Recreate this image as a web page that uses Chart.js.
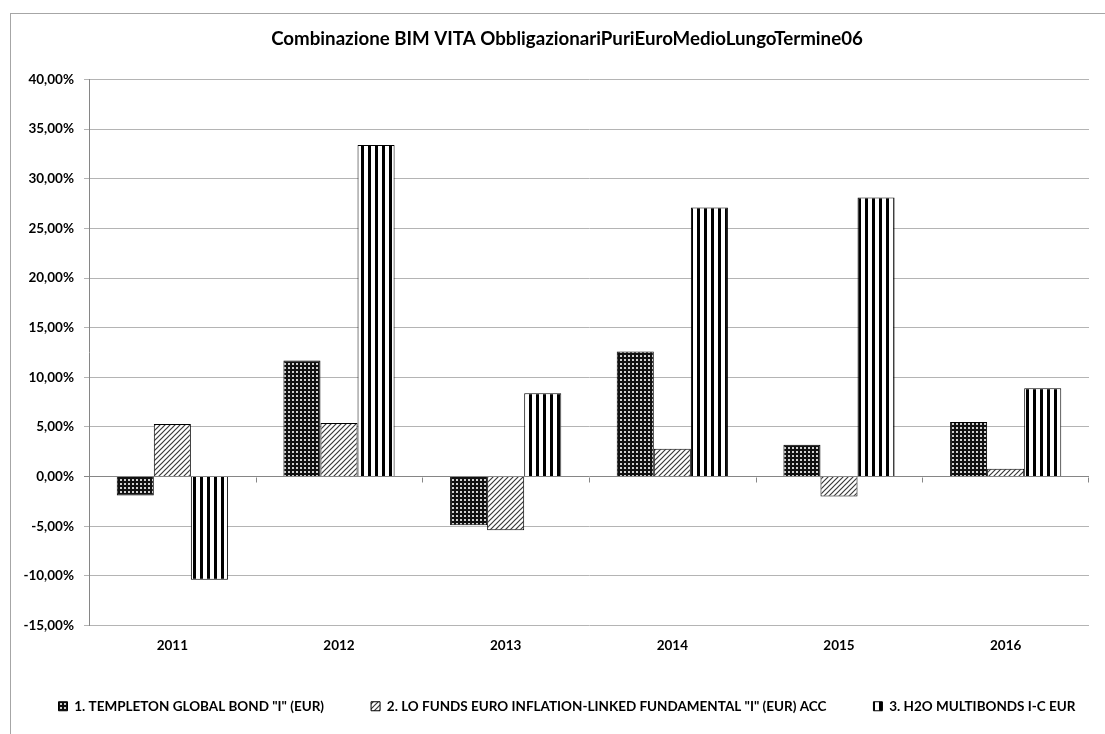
<!DOCTYPE html>
<html>
<head>
<meta charset="utf-8">
<script src="https://cdn.jsdelivr.net/npm/chart.js@4.4.0/dist/chart.umd.min.js"></script>
<style>
  html, body { margin: 0; padding: 0; background: #fff; overflow: hidden; width: 1105px; height: 734px; }
  #frame { position: absolute; left: 10px; top: 13px; width: 1113px; height: 721px;
           border-left: 1px solid #a6a6a6; border-top: 1px solid #a6a6a6; }
  canvas { display: block; }
</style>
</head>
<body>
<div id="frame"><canvas id="chart" width="1112" height="720"></canvas></div>
<script>
const categories = ['2011', '2012', '2013', '2014', '2015', '2016'];
const templeton = [-1.9, 11.7, -4.9, 12.6, 3.2, 5.5];
const loFunds = [5.3, 5.4, -5.4, 2.8, -2.0, 0.8];
const h2o = [-10.4, 33.4, 8.4, 27.1, 28.1, 8.9];
const seriesNames = [
    '1. TEMPLETON GLOBAL BOND "I" (EUR)',
    '2. LO FUNDS EURO INFLATION-LINKED FUNDAMENTAL "I" (EUR) ACC',
    '3. H2O MULTIBONDS I-C EUR'
];

const FONT = 'Lato, "Open Sans", sans-serif';

function makePattern(w, h, paint) {
    const c = document.createElement('canvas');
    c.width = w; c.height = h;
    const g = c.getContext('2d');
    paint(g);
    return document.getElementById('chart').getContext('2d').createPattern(c, 'repeat');
}

// dark fill with light dots
const dotted = makePattern(4, 4, g => {
    g.fillStyle = '#111';
    g.fillRect(0, 0, 4, 4);
    g.fillStyle = '#d0d0d0';
    g.fillRect(1, 1, 2, 2);
});

// diagonal hatch "/"
const hatch = makePattern(5, 5, g => {
    g.fillStyle = '#fff';
    g.fillRect(0, 0, 5, 5);
    g.strokeStyle = '#3a3a3a';
    g.lineWidth = 1.2;
    g.beginPath();
    g.moveTo(-1, 6); g.lineTo(6, -1);
    g.moveTo(-1, 1); g.lineTo(1, -1);
    g.moveTo(4, 6); g.lineTo(6, 4);
    g.stroke();
});

// vertical stripes
const stripes = makePattern(7, 4, g => {
    g.fillStyle = '#fff';
    g.fillRect(0, 0, 7, 4);
    g.fillStyle = '#000';
    g.fillRect(0, 0, 3, 4);
});

// small tick marks on the zero line at category boundaries
const zeroTicks = {
    id: 'zeroTicks',
    afterDatasetsDraw(chart) {
        const x = chart.scales.x, y = chart.scales.y;
        const y0 = Math.round(y.getPixelForValue(0)) + 0.5;
        const ctx = chart.ctx;
        ctx.save();
        ctx.strokeStyle = '#868686';
        ctx.lineWidth = 1;
        ctx.beginPath();
        for (let i = 1; i < categories.length; i++) {
            const px = Math.round((x.getPixelForValue(i - 1) + x.getPixelForValue(i)) / 2) + 0.5;
            ctx.moveTo(px, y0);
            ctx.lineTo(px, y0 + 5);
        }
        ctx.moveTo(x.right - 0.5, y0);
        ctx.lineTo(x.right - 0.5, y0 + 5);
        ctx.stroke();
        ctx.restore();
    }
};

new Chart(document.getElementById('chart').getContext('2d'), {
    type: 'bar',
    data: {
        labels: categories,
        datasets: [
            { label: seriesNames[0], data: templeton, backgroundColor: dotted, borderColor: '#000', borderWidth: 1 },
            { label: seriesNames[1], data: loFunds, backgroundColor: hatch, borderColor: '#000', borderWidth: 1 },
            { label: seriesNames[2], data: h2o, backgroundColor: stripes, borderColor: '#000', borderWidth: 1 },
        ],
    },
    options: {
        responsive: false,
        animation: false,
        devicePixelRatio: 1,
        categoryPercentage: 0.667,
        barPercentage: 1,
        layout: { padding: { left: 0, right: 0, top: 0, bottom: 11 } },
        plugins: {
            title: {
                display: true,
                text: 'Combinazione BIM VITA ObbligazionariPuriEuroMedioLungoTermine06',
                color: '#000',
                font: { family: FONT, size: 18.7, weight: 'bold' },
                padding: { top: 14, bottom: 29 },
            },
            legend: {
                position: 'bottom',
                labels: {
                    color: '#000',
                    font: { family: FONT, size: 13.5, weight: 'bold' },
                    boxWidth: 9,
                    boxHeight: 9,
                    padding: 47,
                },
            },
            tooltip: { enabled: false },
        },
        scales: {
            x: {
                grid: { display: false, drawTicks: false },
                border: { display: false },
                ticks: { color: '#000', font: { family: FONT, size: 13.5, weight: 'bold' }, padding: 12 },
                afterFit(s) { s.height = 27; },
            },
            y: {
                min: -15,
                max: 40,
                ticks: {
                    stepSize: 5,
                    color: '#000',
                    padding: 10,
                    font: { family: FONT, size: 13.5, weight: 'bold' },
                    callback: v => v.toFixed(2).replace('.', ',') + '%',
                },
                grid: {
                    color: ctx => (ctx.tick && ctx.tick.value === 0 ? '#868686' : '#b4b4b4'),
                    tickLength: 5,
                },
                border: { display: true, color: '#868686' },
                afterFit(s) { s.width = 78; },
            },
            r: {
                axis: 'y',
                position: 'right',
                grid: { display: false, drawTicks: false },
                border: { display: false },
                ticks: { display: false },
                afterFit(s) { s.width = 34; },
            },
        },
    },
    plugins: [zeroTicks],
});
</script>
</body>
</html>
